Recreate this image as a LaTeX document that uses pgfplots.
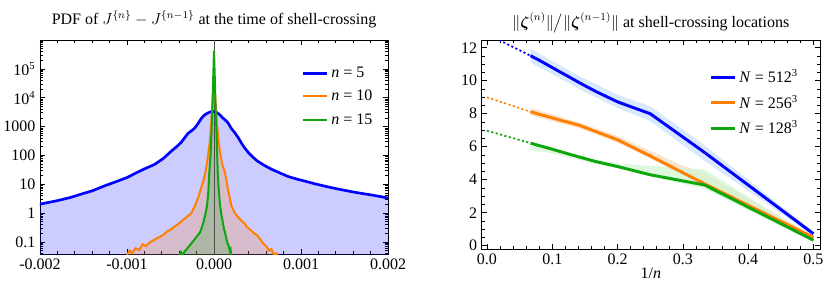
\documentclass[border=0pt]{standalone}
\usepackage{amsmath}
\usepackage{fontspec}
\setmainfont{Liberation Serif}
\usepackage{pgfplots}
\pgfplotsset{compat=1.18}
\definecolor{mblue}{rgb}{0,0,1}
\definecolor{morange}{rgb}{1,0.5,0}
\definecolor{mgreen}{rgb}{0.05,0.65,0.05}
\definecolor{bandblue}{rgb}{0.82,0.9,1}
\definecolor{bandorange}{rgb}{0.99,0.86,0.76}
\definecolor{bandgreen}{rgb}{0.82,0.96,0.82}
\pgfplotsset{
  mystyle/.style={
    scale only axis,
    anchor=south west,
    axis line style={line width=0.6pt},
    tick style={line width=0.5pt, black},
    major tick length=4pt,
    minor tick length=2.2pt,
    tick label style={font=\fontsize{12}{12}\selectfont},
    title style={font=\fontsize{12}{14}\selectfont, yshift=-0.5pt},
    label style={font=\fontsize{12}{14}\selectfont},
    legend style={draw=none, fill=none, font=\fontsize{12}{14}\selectfont, row sep=4pt},
    legend cell align=left,
    legend image code/.code={\draw[#1] (0pt,0pt) -- (18pt,0pt);},
  }
}
\begin{document}
\begin{tikzpicture}
\path[use as bounding box] (0pt,0pt) rectangle (623.25pt,215.25pt);
% ---------------- left panel ----------------
\begin{axis}[mystyle,
  at={(30pt,24.75pt)}, width=261pt, height=160.5pt,
  ymode=log, xmin=-2, xmax=2, ymin=0.038, ymax=1e6,
  xtick={-2,-1,0,1,2}, xticklabels={-0.002,-0.001,0.000,0.001,0.002},
  minor x tick num=4,
  ytick={0.1,1,10,100,1000,1e4,1e5},
  yticklabels={0.1,1,10,100,1000,10\textsuperscript{4},10\textsuperscript{5}},
  minor ytick={0.04,0.05,0.06,0.07,0.08,0.09,0.2,0.3,0.4,0.5,0.6,0.7,0.8,0.9,2,3,4,5,6,7,8,9,20,30,40,50,60,70,80,90,200,300,400,500,600,700,800,900,2000,3000,4000,5000,6000,7000,8000,9000,2e4,3e4,4e4,5e4,6e4,7e4,8e4,9e4,2e5,3e5,4e5,5e5,6e5,7e5,8e5,9e5},
  title={PDF of $J^{\{n\}}-J^{\{n-1\}}$ at the time of shell-crossing},
  legend style={at={(0.975,0.9)}, anchor=north east},
]
% fills
\addplot[draw=none, fill=mblue, fill opacity=0.2, forget plot] coordinates {
(-2.1,0.001) (-2.10,1.66) (-2.0,2.04) (-1.9,2.34) (-1.8,2.69) (-1.65,3.47) (-1.5,4.79) (-1.4,5.89) (-1.26,8.71) (-1.15,11.5) (-1.0,17.0) (-0.89,25.1) (-0.8,33.9) (-0.68,49.0) (-0.58,79.4) (-0.49,141) (-0.43,200) (-0.38,275) (-0.34,398) (-0.30,575) (-0.26,708) (-0.22,891) (-0.18,1318) (-0.146,1905) (-0.11,2512) (-0.07,2951) (-0.04,3236) (0,3311) (0.03,3090) (0.066,2570) (0.10,1995) (0.13,1660) (0.16,1349) (0.20,851) (0.24,603) (0.28,407) (0.31,282) (0.35,186) (0.40,120) (0.45,85.1) (0.50,63.1) (0.58,44.7) (0.66,33.1) (0.75,25.1) (0.85,18.6) (0.95,15.1) (1.04,12.9) (1.15,10.5) (1.29,8.32) (1.43,6.76) (1.6,5.37) (1.8,4.27) (1.9,3.80) (2.0,3.31) (2.1,3.02) (2.1,0.001)};
\addplot[draw=none, fill=morange, fill opacity=0.2, forget plot] coordinates {
(-1.0,0.001) (-1.00,0.0355) (-0.97,0.0501) (-0.94,0.0417) (-0.90,0.0603) (-0.86,0.0525) (-0.82,0.0832) (-0.78,0.0708) (-0.74,0.0955) (-0.70,0.112) (-0.66,0.132) (-0.62,0.151) (-0.58,0.178) (-0.54,0.229) (-0.50,0.263) (-0.46,0.331) (-0.42,0.398) (-0.38,0.501) (-0.34,0.631) (-0.30,0.794) (-0.26,1.0) (-0.22,1.78) (-0.18,3.55) (-0.15,7.08) (-0.12,14.1) (-0.10,25.1) (-0.08,56.2) (-0.06,158) (-0.046,355) (-0.03,1585) (-0.02,5012) (-0.01,15849) (0.0,31623) (0.01,15849) (0.02,5623) (0.03,1995) (0.05,355) (0.07,126) (0.09,56.2) (0.11,35.5) (0.126,25.1) (0.15,10.0) (0.175,3.98) (0.20,1.78) (0.24,1.0) (0.28,0.708) (0.32,0.525) (0.35,0.447) (0.38,0.324) (0.42,0.263) (0.46,0.200) (0.50,0.166) (0.54,0.112) (0.57,0.0851) (0.60,0.0708) (0.63,0.0501) (0.66,0.0562) (0.69,0.0355) (0.72,0.0398) (0.75,0.0251) (0.75,0.001)};
\addplot[draw=none, fill=mgreen, fill opacity=0.2, forget plot] coordinates {
(-0.40,0.001) (-0.40,0.0316) (-0.38,0.0447) (-0.36,0.0355) (-0.33,0.0501) (-0.30,0.0631) (-0.28,0.0741) (-0.26,0.0891) (-0.24,0.105) (-0.22,0.126) (-0.20,0.151) (-0.18,0.182) (-0.16,0.214) (-0.14,0.316) (-0.12,0.501) (-0.10,0.891) (-0.08,1.78) (-0.065,5.62) (-0.054,25.1) (-0.04,100) (-0.03,501) (-0.02,3162) (-0.01,39811) (0.0,416869) (0.01,39811) (0.02,3162) (0.03,501) (0.043,25.1) (0.055,6.31) (0.07,1.78) (0.085,0.891) (0.10,0.501) (0.115,0.282) (0.126,0.214) (0.14,0.141) (0.155,0.0891) (0.17,0.0708) (0.18,0.0501) (0.19,0.0562) (0.20,0.0316) (0.20,0.001)};
% zero line
\addplot[black!70, line width=0.5pt, forget plot] coordinates {(0,0.001) (0,1e7)};
% curves
\addplot[mblue, line width=2pt] coordinates {
(-2.10,1.66) (-2.0,2.04) (-1.9,2.34) (-1.8,2.69) (-1.65,3.47) (-1.5,4.79) (-1.4,5.89) (-1.26,8.71) (-1.15,11.5) (-1.0,17.0) (-0.89,25.1) (-0.8,33.9) (-0.68,49.0) (-0.58,79.4) (-0.49,141) (-0.43,200) (-0.38,275) (-0.34,398) (-0.30,575) (-0.26,708) (-0.22,891) (-0.18,1318) (-0.146,1905) (-0.11,2512) (-0.07,2951) (-0.04,3236) (0,3311) (0.03,3090) (0.066,2570) (0.10,1995) (0.13,1660) (0.16,1349) (0.20,851) (0.24,603) (0.28,407) (0.31,282) (0.35,186) (0.40,120) (0.45,85.1) (0.50,63.1) (0.58,44.7) (0.66,33.1) (0.75,25.1) (0.85,18.6) (0.95,15.1) (1.04,12.9) (1.15,10.5) (1.29,8.32) (1.43,6.76) (1.6,5.37) (1.8,4.27) (1.9,3.80) (2.0,3.31) (2.1,3.02)};
\addlegendentry{\textit{n} = 5}
\addplot[morange, line width=1.5pt] coordinates {
(-1.00,0.0355) (-0.97,0.0501) (-0.94,0.0417) (-0.90,0.0603) (-0.86,0.0525) (-0.82,0.0832) (-0.78,0.0708) (-0.74,0.0955) (-0.70,0.112) (-0.66,0.132) (-0.62,0.151) (-0.58,0.178) (-0.54,0.229) (-0.50,0.263) (-0.46,0.331) (-0.42,0.398) (-0.38,0.501) (-0.34,0.631) (-0.30,0.794) (-0.26,1.0) (-0.22,1.78) (-0.18,3.55) (-0.15,7.08) (-0.12,14.1) (-0.10,25.1) (-0.08,56.2) (-0.06,158) (-0.046,355) (-0.03,1585) (-0.02,5012) (-0.01,15849) (0.0,31623) (0.01,15849) (0.02,5623) (0.03,1995) (0.05,355) (0.07,126) (0.09,56.2) (0.11,35.5) (0.126,25.1) (0.15,10.0) (0.175,3.98) (0.20,1.78) (0.24,1.0) (0.28,0.708) (0.32,0.525) (0.35,0.447) (0.38,0.324) (0.42,0.263) (0.46,0.200) (0.50,0.166) (0.54,0.112) (0.57,0.0851) (0.60,0.0708) (0.63,0.0501) (0.66,0.0562) (0.69,0.0355) (0.72,0.0398) (0.75,0.0251)};
\addlegendentry{\textit{n} = 10}
\addplot[mgreen, line width=1.5pt] coordinates {
(-0.40,0.0316) (-0.38,0.0447) (-0.36,0.0355) (-0.33,0.0501) (-0.30,0.0631) (-0.28,0.0741) (-0.26,0.0891) (-0.24,0.105) (-0.22,0.126) (-0.20,0.151) (-0.18,0.182) (-0.16,0.214) (-0.14,0.316) (-0.12,0.501) (-0.10,0.891) (-0.08,1.78) (-0.065,5.62) (-0.054,25.1) (-0.04,100) (-0.03,501) (-0.02,3162) (-0.01,39811) (0.0,416869) (0.01,39811) (0.02,3162) (0.03,501) (0.043,25.1) (0.055,6.31) (0.07,1.78) (0.085,0.891) (0.10,0.501) (0.115,0.282) (0.126,0.214) (0.14,0.141) (0.155,0.0891) (0.17,0.0708) (0.18,0.0501) (0.19,0.0562) (0.20,0.0316)};
\addlegendentry{\textit{n} = 15}
\end{axis}
% ---------------- right panel ----------------
\begin{axis}[mystyle,
  at={(361.3pt,28.5pt)}, width=253.7pt, height=156.75pt,
  xmin=-0.008, xmax=0.51, ymin=-0.2, ymax=12.47,
  xtick={0,0.1,0.2,0.3,0.4,0.5}, xticklabels={0.0,0.1,0.2,0.3,0.4,0.5},
  minor x tick num=4,
  ytick={0,2,4,6,8,10,12}, yticklabels={0,2,4,6,8,10,12},
  minor y tick num=3,
  xlabel={1/\textit{n}},
  xlabel style={yshift=4pt},
  title={$\|\boldsymbol{\zeta}^{(n)}\|\big/\|\boldsymbol{\zeta}^{(n-1)}\|$ at shell-crossing locations},
  title style={yshift=-4pt},
  legend style={at={(0.955,0.885)}, anchor=north east},
]
% bands
\addplot[draw=none, fill=bandblue, fill opacity=0.85, forget plot] coordinates {
(0.0667,11.95) (0.1,11.2) (0.143,10.25) (0.2,9.15) (0.25,8.45) (0.333,6.1) (0.5,0.85)
(0.5,0.6) (0.333,5.15) (0.25,7.55) (0.2,8.35) (0.143,9.45) (0.1,10.4) (0.0667,11.1)};
\addplot[draw=none, fill=bandorange, fill opacity=0.8, forget plot] coordinates {
(0.0667,8.35) (0.143,7.45) (0.2,6.65) (0.25,5.75) (0.3,4.85) (0.333,4.4) (0.5,0.6)
(0.5,0.42) (0.333,3.6) (0.25,5.3) (0.2,6.25) (0.143,7.1) (0.0667,7.9)};
\addplot[draw=none, fill=bandgreen, fill opacity=0.75, forget plot] coordinates {
(0.0667,6.3) (0.1,5.95) (0.167,5.2) (0.2,5.0) (0.25,4.83) (0.333,4.63) (0.5,0.45)
(0.5,0.25) (0.333,3.45) (0.25,4.2) (0.2,4.7) (0.167,4.95) (0.1,5.6) (0.0667,5.8)};
% extrapolations
\addplot[mblue, line width=1.3pt, dash pattern=on 1.6pt off 1.8pt, forget plot] coordinates {(0,12.83) (0.0667,11.52)};
\addplot[morange, line width=1.3pt, dash pattern=on 1.6pt off 1.8pt, forget plot] coordinates {(0,9.0) (0.0667,8.12)};
\addplot[mgreen, line width=1.3pt, dash pattern=on 1.6pt off 1.8pt, forget plot] coordinates {(0,6.97) (0.0667,6.22)};
% lines
\addplot[mblue, line width=2.2pt] coordinates {
(0.0667,11.52) (0.0714,11.42) (0.0769,11.31) (0.0833,11.17) (0.0909,11.0) (0.1,10.8) (0.1111,10.55) (0.125,10.25) (0.1429,9.85) (0.1667,9.35) (0.2,8.72) (0.25,8.0) (0.3333,5.65) (0.5,0.72)};
\addlegendentry{\textit{N} = 512\textsuperscript{3}}
\addplot[morange, line width=2.2pt] coordinates {
(0.0667,8.12) (0.0714,8.07) (0.0769,8.0) (0.0833,7.93) (0.0909,7.85) (0.1,7.75) (0.1111,7.62) (0.125,7.48) (0.1429,7.28) (0.1667,6.92) (0.2,6.42) (0.25,5.44) (0.3333,3.75) (0.5,0.5)};
\addlegendentry{\textit{N} = 256\textsuperscript{3}}
\addplot[mgreen, line width=2.2pt] coordinates {
(0.0667,6.22) (0.0714,6.17) (0.0769,6.1) (0.0833,6.03) (0.0909,5.95) (0.1,5.85) (0.1111,5.72) (0.125,5.56) (0.1429,5.36) (0.1667,5.1) (0.2,4.8) (0.25,4.3) (0.3333,3.68) (0.5,0.33)};
\addlegendentry{\textit{N} = 128\textsuperscript{3}}
\end{axis}
\end{tikzpicture}
\end{document}
